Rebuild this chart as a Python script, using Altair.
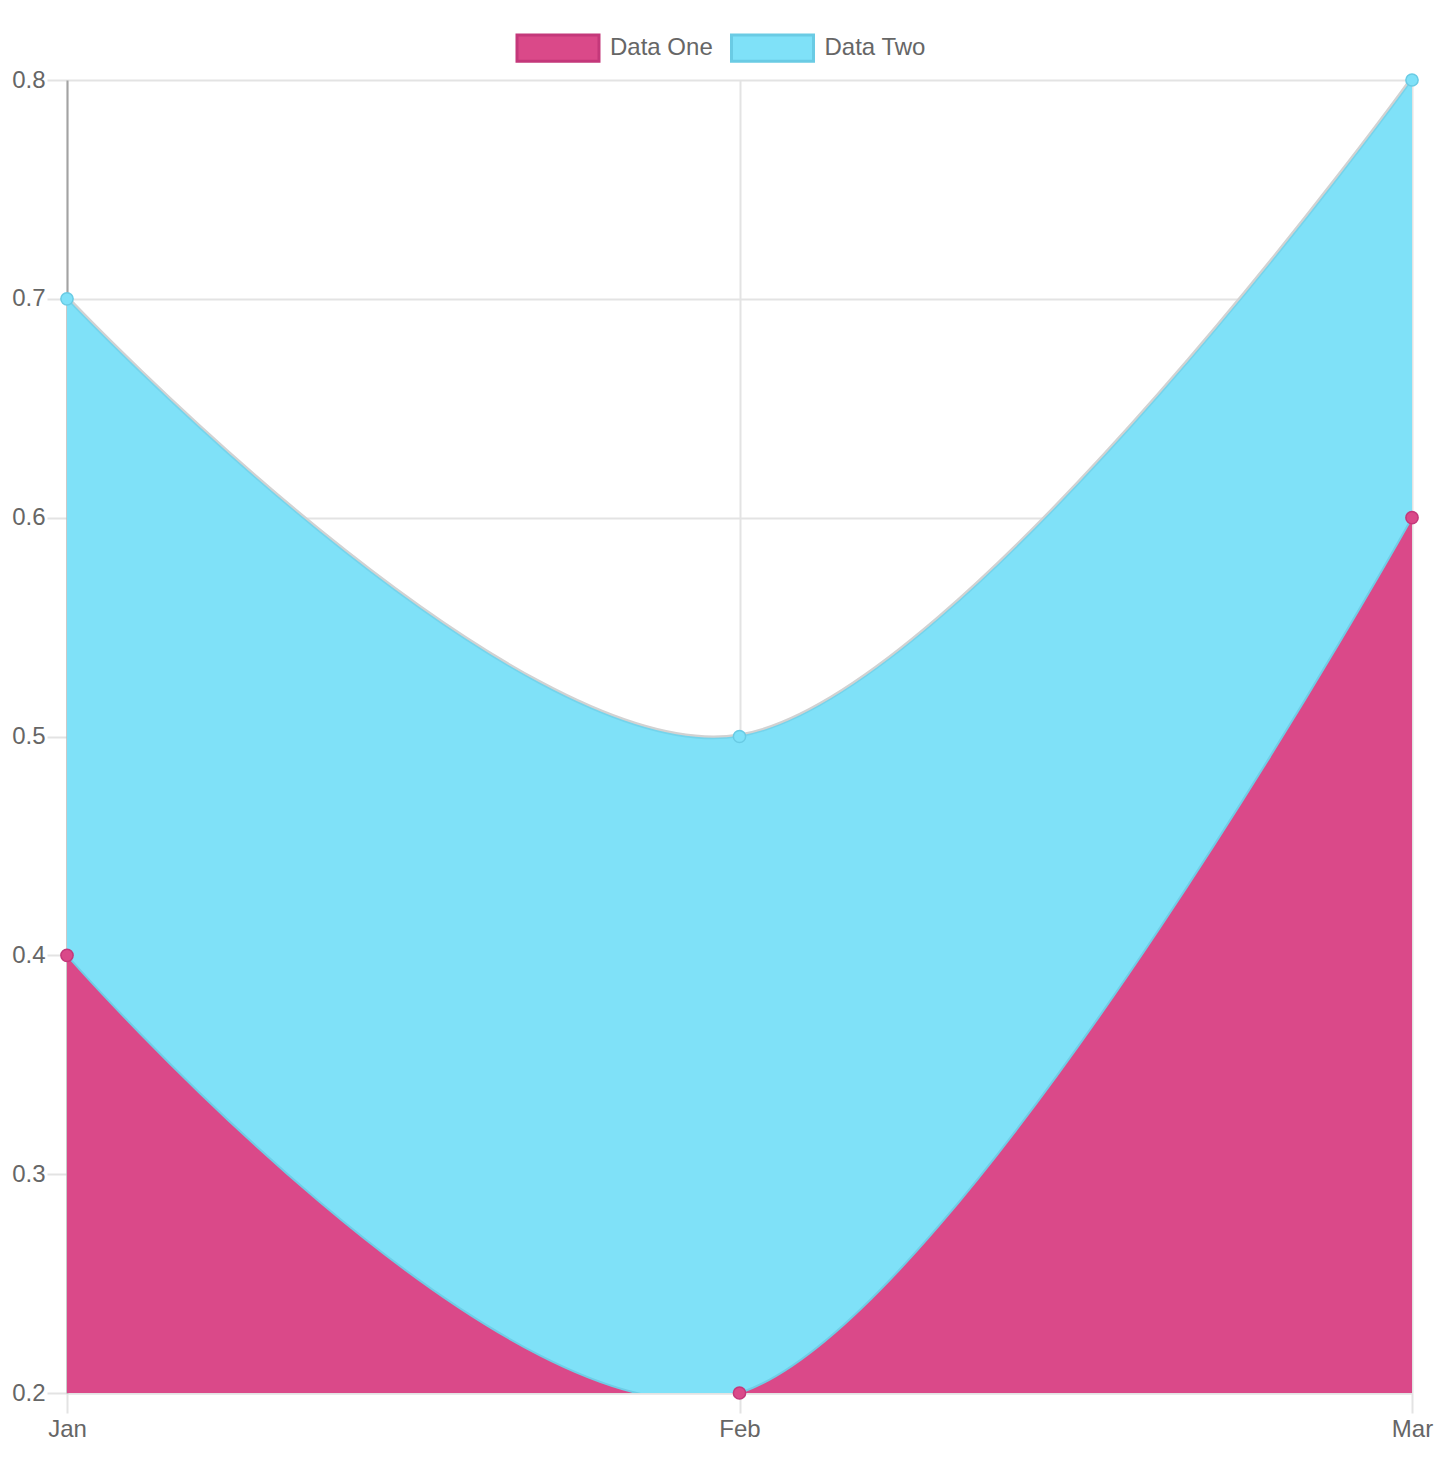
import altair as alt
import pandas as pd

months = ["Jan", "Feb", "Mar"]
data_one = [0.4, 0.2, 0.6]
data_two = [0.7, 0.5, 0.8]
series_names = ["Data One", "Data Two"]
y_ticks = [0.2, 0.3, 0.4, 0.5, 0.6, 0.7, 0.8]

fill_colors = ["#DA4989", "#7FE1F8"]
point_fill = ["#D63F84", "#80DBF3"]
stroke_colors = ["#C4387A", "#6ACBE4"]

wide = pd.DataFrame({"month": months, "one": data_one, "two": data_two})
long = pd.DataFrame({
    "month": months + months,
    "value": data_one + data_two,
    "series": [series_names[0]] * 3 + [series_names[1]] * 3,
})

FONT = "Liberation Sans"

x_enc = alt.X(
    "month:N",
    sort=months,
    scale=alt.Scale(type="point", padding=0),
    axis=alt.Axis(
        title=None, labelAngle=0, grid=True, tickSize=20, labelPadding=4,
        domainColor="#e3e3e3", domainWidth=2,
    ),
)
y_scale = alt.Scale(domain=[0.2, 0.8], zero=False, nice=False)
y_axis = alt.Axis(
    title=None, values=y_ticks, format=".1f", tickSize=20, labelPadding=2,
    domainColor="#a3a3a3", domainWidth=2,
)

fill_scale = alt.Scale(domain=series_names, range=fill_colors)
stroke_scale = alt.Scale(domain=series_names, range=stroke_colors)

legend = alt.Legend(title=None)

INTERP = "cardinal"

top_shadow = alt.Chart(wide).mark_line(
    interpolate=INTERP, color="#d2d2d2", strokeWidth=6, clip=True
).encode(x=x_enc, y=alt.Y("two:Q", scale=y_scale, axis=y_axis))

area_two = alt.Chart(wide).transform_calculate(series="'Data Two'").mark_area(
    interpolate=INTERP, opacity=1, clip=True
).encode(
    x=x_enc,
    y=alt.Y("two:Q", scale=y_scale, axis=y_axis),
    y2=alt.datum(0.2),
    fill=alt.Fill("series:N", scale=fill_scale, legend=legend),
)

top_edge = alt.Chart(wide).mark_line(
    interpolate=INTERP, color="#74D4EC", strokeWidth=1.5, clip=True
).encode(x=x_enc, y=alt.Y("two:Q", scale=y_scale, axis=y_axis))

area_one = alt.Chart(wide).transform_calculate(series="'Data One'").mark_area(
    interpolate=INTERP, opacity=1, clip=True
).encode(
    x=x_enc,
    y=alt.Y("one:Q", scale=y_scale, axis=y_axis),
    y2=alt.datum(0.2),
    fill=alt.Fill("series:N", scale=fill_scale, legend=legend),
)

mid_edge = alt.Chart(wide).mark_line(
    interpolate=INTERP, color="#6FCDE6", strokeWidth=2, clip=True
).encode(x=x_enc, y=alt.Y("one:Q", scale=y_scale, axis=y_axis))

points = alt.Chart(long).mark_point(
    filled=True, size=150, strokeWidth=1.5, opacity=1, shape="circle"
).encode(
    x=x_enc,
    y=alt.Y("value:Q", scale=y_scale, axis=y_axis),
    fill=alt.Fill("series:N", scale=fill_scale, legend=legend),
    stroke=alt.Stroke("series:N", scale=stroke_scale, legend=legend),
)

chart = alt.layer(top_shadow, area_two, top_edge, area_one, mid_edge, points).properties(
    width=1345,
    height=1313,
    autosize=alt.AutoSizeParams(type="none"),
    padding={"left": 67, "top": 80, "right": 32, "bottom": 69},
).configure_view(
    stroke=None
).configure_axis(
    labelFont=FONT, labelFontSize=24, labelColor="#666666",
    gridColor="#e3e3e3", gridWidth=2, tickColor="#e3e3e3", tickWidth=2,
).configure_legend(
    orient="none", legendX=448.5, legendY=-74.5, direction="horizontal",
    symbolType="M-1,-0.32L1,-0.32L1,0.32L-1,0.32Z", symbolSize=6724,
    symbolStrokeWidth=3, labelFont=FONT, labelFontSize=24, labelColor="#666666",
    labelOffset=9.5, columnPadding=11.5, padding=0,
)

chart.save("out.html", embed_options={"renderer": "svg", "actions": False})
